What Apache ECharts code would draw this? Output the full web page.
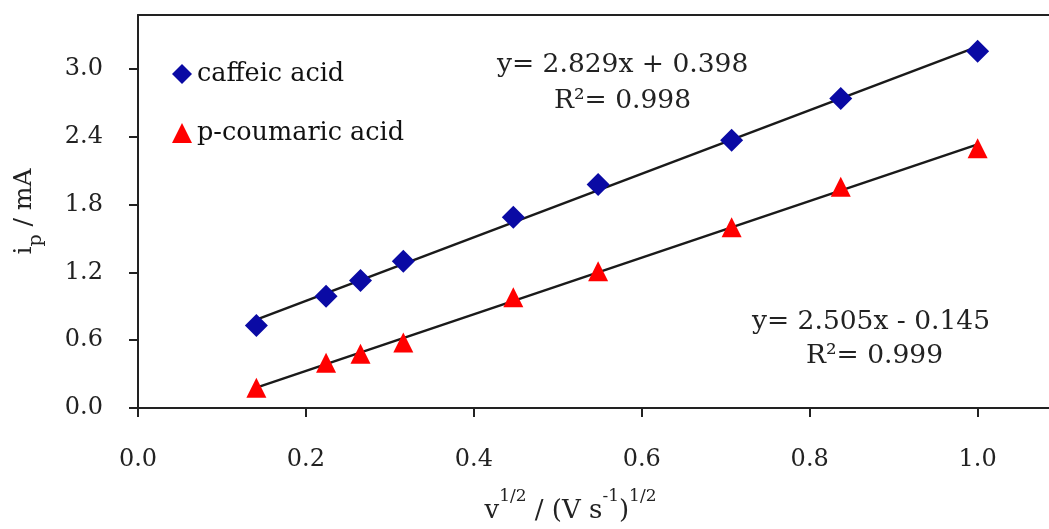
<!DOCTYPE html>
<html>
<head>
<meta charset="utf-8">
<script src="https://cdn.jsdelivr.net/npm/echarts@6/dist/echarts.min.js"></script>
<style>
  html, body { margin: 0; padding: 0; background: #fff; }
  #main { width: 1049px; height: 529px; }
</style>
</head>
<body>
<div id="main"></div>
<script>
// scan rate square roots, v^1/2
var sqrtScan = [0.141, 0.224, 0.265, 0.316, 0.447, 0.548, 0.707, 0.837, 1.0];
// peak currents (mA)
var caffeic = [0.73, 0.99, 1.13, 1.30, 1.69, 1.98, 2.37, 2.74, 3.16];
var coumaric = [0.18, 0.40, 0.48, 0.58, 0.98, 1.21, 1.60, 1.96, 2.30];
var seriesNames = ['caffeic acid', 'p-coumaric acid'];
var eqCaffeic = ['y= 2.829x + 0.398', 'R\u00b2= 0.998'];
var eqCoumaric = ['y= 2.505x - 0.145', 'R\u00b2= 0.999'];

var serif = '"DejaVu Serif", "Liberation Serif", serif';

function pairs(xs, ys) {
    return xs.map(function (x, i) { return [x, ys[i]]; });
}

// least squares trendline over the data range
function trend(xs, ys) {
    var n = xs.length, sx = 0, sy = 0, sxx = 0, sxy = 0;
    for (var i = 0; i < n; i++) {
        sx += xs[i]; sy += ys[i]; sxx += xs[i] * xs[i]; sxy += xs[i] * ys[i];
    }
    var a = (n * sxy - sx * sy) / (n * sxx - sx * sx);
    var b = (sy - a * sx) / n;
    var x0 = Math.min.apply(null, xs), x1 = Math.max.apply(null, xs);
    return [[x0, a * x0 + b], [x1, a * x1 + b]];
}

var chart = echarts.init(document.getElementById('main'));

var option = {
    backgroundColor: '#fff',
    animation: false,
    grid: { left: 138, top: 15, right: 0, bottom: 110 },
    legend: {
        orient: 'vertical',
        left: 167,
        top: 56,
        itemGap: 33,
        itemWidth: 20,
        itemHeight: 20,
        data: [
            { name: seriesNames[0], icon: 'diamond' },
            { name: seriesNames[1], icon: 'triangle' }
        ],
        textStyle: { fontFamily: serif, fontSize: 25.5, color: '#111' }
    },
    xAxis: [
        {
            type: 'value',
            min: 0,
            max: 1.085,
            interval: 0.2,
            splitLine: { show: false },
            axisLine: { lineStyle: { color: '#222', width: 2 } },
            axisTick: { length: 9, lineStyle: { color: '#222', width: 2 } },
            axisLabel: {
                showMaxLabel: false,
                margin: 40,
                fontFamily: serif, fontSize: 24, color: '#222',
                formatter: function (v) { return v.toFixed(1); }
            },
            name: '{b|v}{sup|1/2}{b| / (V s}{sup|-1}{b|)}{sup|1/2}',
            nameLocation: 'middle',
            nameGap: 80,
            nameTextStyle: {
                padding: [0, 46, 0, 0],
                rich: {
                    b: { fontFamily: serif, fontSize: 26, color: '#222', lineHeight: 36, verticalAlign: 'bottom' },
                    sup: { fontFamily: serif, fontSize: 17, color: '#222', lineHeight: 36, verticalAlign: 'top' }
                }
            }
        },
        {
            type: 'value',
            position: 'top',
            min: 0,
            max: 1.085,
            splitLine: { show: false },
            axisLine: { lineStyle: { color: '#222', width: 2 } },
            axisTick: { show: false },
            axisLabel: { show: false }
        }
    ],
    yAxis: {
        type: 'value',
        min: 0,
        max: 3.48,
        interval: 0.6,
        splitLine: { show: false },
        axisLine: { lineStyle: { color: '#222', width: 2 } },
        axisTick: { length: 9, lineStyle: { color: '#222', width: 2 } },
        axisLabel: {
            showMaxLabel: false,
            margin: 35,
            fontFamily: serif, fontSize: 24, color: '#222',
            formatter: function (v) { return v.toFixed(1); }
        },
        name: '{b|i}{sub|p}{b| / mA}',
        nameLocation: 'middle',
        nameRotate: 90,
        nameGap: 92,
        nameTextStyle: {
            rich: {
                b: { fontFamily: serif, fontSize: 25, color: '#222', lineHeight: 34, verticalAlign: 'top' },
                sub: { fontFamily: serif, fontSize: 19, color: '#222', lineHeight: 34, verticalAlign: 'bottom' }
            }
        }
    },
    series: [
        {
            name: 'trend caffeic',
            type: 'line',
            data: trend(sqrtScan, caffeic),
            symbol: 'none',
            silent: true,
            lineStyle: { color: '#1a1a1a', width: 2.5 },
            z: 1
        },
        {
            name: 'trend coumaric',
            type: 'line',
            data: trend(sqrtScan, coumaric),
            symbol: 'none',
            silent: true,
            lineStyle: { color: '#1a1a1a', width: 2.5 },
            z: 1
        },
        {
            name: seriesNames[0],
            type: 'scatter',
            data: pairs(sqrtScan, caffeic),
            symbol: 'diamond',
            symbolSize: 23,
            itemStyle: { color: '#0a0aa4', opacity: 1 },
            z: 3
        },
        {
            name: seriesNames[1],
            type: 'scatter',
            data: pairs(sqrtScan, coumaric),
            symbol: 'triangle',
            symbolSize: 20,
            itemStyle: { color: '#ff0000', opacity: 1 },
            z: 3
        }
    ],
    graphic: [
        {
            type: 'text', left: 497, top: 52,
            style: { text: eqCaffeic[0], font: '26.5px ' + serif, fill: '#222' }
        },
        {
            type: 'text', left: 554, top: 88,
            style: { text: eqCaffeic[1], font: '26.5px ' + serif, fill: '#222' }
        },
        {
            type: 'text', left: 752, top: 309,
            style: { text: eqCoumaric[0], font: '26.5px ' + serif, fill: '#222' }
        },
        {
            type: 'text', left: 806, top: 343,
            style: { text: eqCoumaric[1], font: '26.5px ' + serif, fill: '#222' }
        }
    ]
};

chart.setOption(option);
</script>
</body>
</html>
